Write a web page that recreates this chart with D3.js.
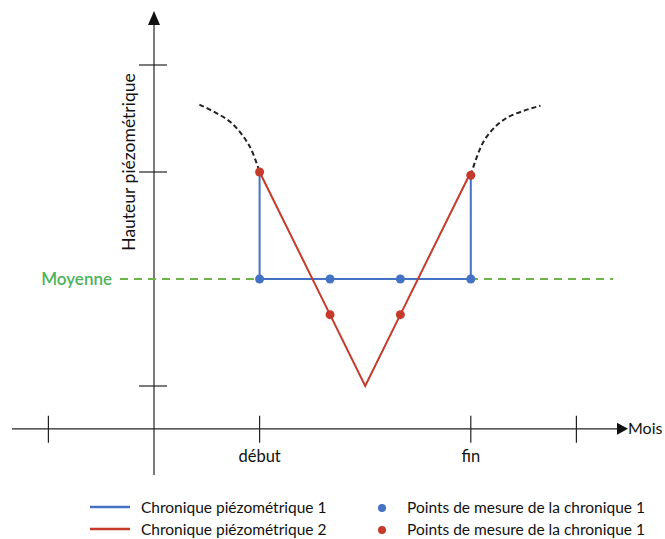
<!DOCTYPE html>
<html><head><meta charset="utf-8">
<script src="https://cdn.jsdelivr.net/npm/d3@7"></script>
<style>body{margin:0;background:#fff}svg{display:block}text{font-family:Lato,"Open Sans",sans-serif}</style>
</head><body>
<script>
// Data (x in "month" units, y in height units)
const xTicks = [-1, 0, 1, 3, 4];
const xTickLabels = {1: "début", 3: "fin"};
const yTicks = [1, 3, 4];
const meanValue = 2;
const xAxisLevel = 0.6;
const serie1 = [[1, 3], [1, 2], [1.667, 2], [2.333, 2], [3, 2], [3, 3]];
const points1 = [[1, 2], [1.667, 2], [2.333, 2], [3, 2]];
const serie2 = [[1, 3], [1.667, 1.667], [2, 1], [2.333, 1.667], [3, 3]];
const points2 = [[1, 3], [1.667, 1.667], [2.333, 1.667], [3, 2.97]];
const dashLeft = [[0.43, 3.63], [0.72, 3.47], [0.9, 3.25], [1, 3]];
const dashRight = [[3, 2.97], [3.13, 3.3], [3.33, 3.5], [3.66, 3.62]];
const legendItems = [
  {label: "Chronique piézométrique 1", type: "line", color: "#4472C4"},
  {label: "Chronique piézométrique 2", type: "line", color: "#C53A2B"},
  {label: "Points de mesure de la chronique 1", type: "dot", color: "#4472C4"},
  {label: "Points de mesure de la chronique 1", type: "dot", color: "#C53A2B"}
];

const W = 665, H = 539;
const svg = d3.select("body").append("svg").attr("width", W).attr("height", H);
const x = d3.scaleLinear().domain([0, 1]).range([154, 259.6]);
const y = d3.scaleLinear().domain([1, 3]).range([386, 172]);
const axisColor = "#222";
const blue = "#4472C4", red = "#C53A2B";

// Axes
const x0 = x(0), yA = y(xAxisLevel);
svg.append("line").attr("x1", 12).attr("x2", 618).attr("y1", yA).attr("y2", yA).attr("stroke", axisColor).attr("stroke-width", 1.2);
svg.append("path").attr("d", `M617,${yA-6}L628,${yA}L617,${yA+6}Z`).attr("fill", "#111");
svg.append("text").attr("x", 628).attr("y", yA + 5.5).attr("font-size", 16).attr("fill", "#111").text("Mois");
svg.append("line").attr("x1", x0).attr("x2", x0).attr("y1", 475).attr("y2", 24).attr("stroke", axisColor).attr("stroke-width", 1.2);
svg.append("path").attr("d", `M${x0-6},25L${x0},11L${x0+6},25Z`).attr("fill", "#111");

svg.selectAll(".xt").data(xTicks.filter(d => d !== 0)).join("line")
  .attr("x1", d => x(d)).attr("x2", d => x(d)).attr("y1", yA - 13).attr("y2", yA + 14)
  .attr("stroke", axisColor).attr("stroke-width", 1.2);
svg.selectAll(".xl").data(Object.keys(xTickLabels).map(Number)).join("text")
  .attr("x", d => x(d)).attr("y", yA + 33).attr("text-anchor", "middle").attr("font-size", 16.5).attr("fill", "#111")
  .text(d => xTickLabels[d]);
svg.selectAll(".yt").data(yTicks).join("line")
  .attr("x1", x0 - 15).attr("x2", x0 + 13).attr("y1", d => y(d)).attr("y2", d => y(d))
  .attr("stroke", axisColor).attr("stroke-width", 1.2);
svg.append("text").attr("transform", `translate(135,162) rotate(-90)`).attr("text-anchor", "middle")
  .attr("font-size", 17.5).attr("fill", "#111").text("Hauteur piézométrique");

// Mean line
svg.append("line").attr("x1", 120).attr("x2", 613).attr("y1", y(meanValue)).attr("y2", y(meanValue))
  .attr("stroke", "#70B34A").attr("stroke-width", 2).attr("stroke-dasharray", "8,6");
svg.append("text").attr("x", 112).attr("y", y(meanValue) + 6).attr("text-anchor", "end")
  .attr("font-size", 17).attr("font-weight", 600).attr("fill", "#4DB35A").text("Moyenne");

const line = d3.line().x(d => x(d[0])).y(d => y(d[1]));
const curve = d3.line().x(d => x(d[0])).y(d => y(d[1])).curve(d3.curveCatmullRom);
svg.append("path").attr("d", curve(dashLeft)).attr("fill", "none").attr("stroke", "#222").attr("stroke-width", 2).attr("stroke-dasharray", "5,3");
svg.append("path").attr("d", curve(dashRight)).attr("fill", "none").attr("stroke", "#222").attr("stroke-width", 2).attr("stroke-dasharray", "5,3");

svg.append("path").attr("d", line(serie1)).attr("fill", "none").attr("stroke", blue).attr("stroke-width", 2);
svg.append("path").attr("d", line(serie2)).attr("fill", "none").attr("stroke", red).attr("stroke-width", 2);
svg.selectAll(".p1").data(points1).join("circle").attr("cx", d => x(d[0])).attr("cy", d => y(d[1])).attr("r", 4.5).attr("fill", blue);
svg.selectAll(".p2").data(points2).join("circle").attr("cx", d => x(d[0])).attr("cy", d => y(d[1])).attr("r", 4.5).attr("fill", red);

// Legend
const lg = svg.append("g").attr("font-size", 15.5).attr("fill", "#111");
legendItems.forEach((it, i) => {
  const col = Math.floor(i / 2), row = i % 2;
  const ly = 507 + row * 22;
  if (it.type === "line") {
    lg.append("line").attr("x1", 90).attr("x2", 130).attr("y1", ly).attr("y2", ly).attr("stroke", it.color).attr("stroke-width", 2.5);
    lg.append("text").attr("x", 141).attr("y", ly + 5.5).text(it.label);
  } else {
    lg.append("circle").attr("cx", 382).attr("cy", ly + 1).attr("r", 4).attr("fill", it.color);
    lg.append("text").attr("x", 407).attr("y", ly + 5.5).text(it.label);
  }
});
</script>
</body></html>
